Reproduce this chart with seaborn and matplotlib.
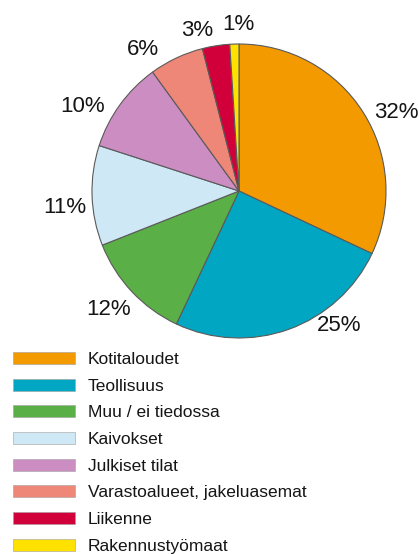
import matplotlib
matplotlib.use("Agg")
import matplotlib.pyplot as plt
from matplotlib.patches import Patch
import numpy as np
import seaborn as sns

categories = [
    "Kotitaloudet",
    "Teollisuus",
    "Muu / ei tiedossa",
    "Kaivokset",
    "Julkiset tilat",
    "Varastoalueet, jakeluasemat",
    "Liikenne",
    "Rakennustyömaat",
]
shares = [32, 25, 12, 11, 10, 6, 3, 1]
colors = [
    "#F39A00",
    "#00A6C2",
    "#5BAF47",
    "#CFE8F6",
    "#CC8DC3",
    "#EE8777",
    "#D2003A",
    "#FFE100",
]

sns.set_theme(style="white")
plt.rcParams["font.family"] = ["Liberation Sans", "DejaVu Sans"]

W, H = 419, 554
fig = plt.figure(figsize=(W / 100, H / 100), dpi=100)

# pie centre / radius in pixels
cx, cy, r = 239, 191, 147
ax = fig.add_axes([(cx - r) / W, 1 - (cy + r) / H, 2 * r / W, 2 * r / H])

wedges, _ = ax.pie(
    shares,
    colors=colors,
    startangle=90,
    counterclock=False,
    wedgeprops={"edgecolor": "#5a5a5a", "linewidth": 0.8},
)

# label placement: (angle nudge in degrees, distance in radii) per wedge
label_nudge = [(-5.8, 1.20), (17, 1.14), (-1, 1.20), (3.5, 1.19),
               (7.8, 1.21), (9, 1.16), (5.6, 1.13), (-1.5, 1.13)]
for w, v, (dang, dist) in zip(wedges, shares, label_nudge):
    mid = np.deg2rad((w.theta1 + w.theta2) / 2 + dang)
    ax.text(dist * np.cos(mid), dist * np.sin(mid), f"{v}%",
            ha="center", va="center", fontsize=16, color="#151515",
            clip_on=False)

ax.set_xlim(-1, 1)
ax.set_ylim(-1, 1)
ax.set_aspect("equal", adjustable="box")

handles = [Patch(facecolor=c, edgecolor="#a0a0a0", linewidth=0.4) for c in colors]
fig.legend(
    handles,
    categories,
    loc="upper left",
    bbox_to_anchor=(6 / W, 1 - 345 / H),
    frameon=False,
    fontsize=12.5,
    labelcolor="#151515",
    handlelength=3.6,
    handleheight=0.68,
    handletextpad=0.72,
    labelspacing=0.67,
    borderaxespad=0,
)

fig.savefig("out.png", dpi=100)
